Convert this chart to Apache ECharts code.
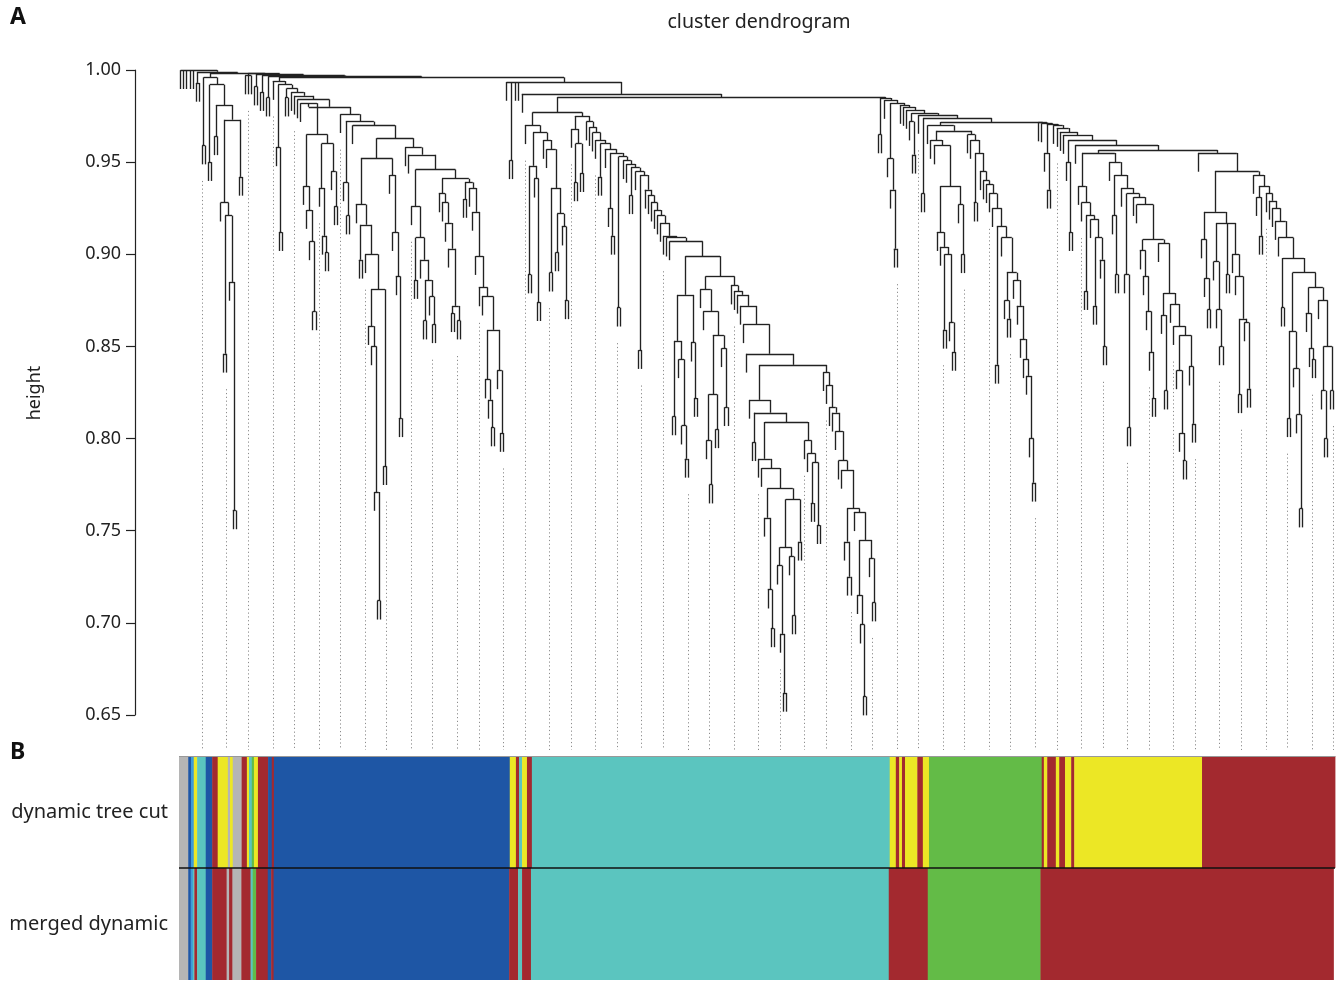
<!DOCTYPE html>
<html><head><meta charset="utf-8">
<script src="https://cdn.jsdelivr.net/npm/echarts@6/dist/echarts.min.js"></script>
<style>html,body{margin:0;padding:0;background:#fff}#c{width:1341px;height:981px}</style>
</head><body><div id="c"></div>
<script>
// ---------- DATA: dendrogram merge tree (x = leaf, pNNN = pair of leaves merged at 0.NNN, (...)NNN = node merged at height 0.NNN) ----------
const N1 = "(p959 (p950 (p964 ((x (p846 (x p761)885)921)928 p942)973)981)992)996";
const chainA = "(x (x (x p869)907)924)937";
const chainB = "(x (x p901)910)936";
const chainC = "(x p926)945";
const B1 = `(x (${chainA} (${chainB} ${chainC})960)965)982`;
const X1L = "(x (p897 (x ((x (x (x p712)771)850)861 p785)881)900)916)927";
const X1R = "(x (x (x p811)888)912)943";
const X1 = `(${X1L} ${X1R})952`;
const Y1 = "(x (p886 (x (p864 (x p862)877)886)897)909)926";
const Y2a = "(x (x (x (x (p868 p864)872)903)917)928)933";
const Y2b = "(p930 (x (x (x (x (x ((x (x p806)821)832 (x p803)837)859)877)882)899)923)936)939";
const P148 = `(x (x (${Y1} (${Y2a} ${Y2b})941)946)954)958`;
const B2 = `(x ((x p921)939 (x (${X1} ${P148})963)970)972)976`;
const BLUE = `(x ((x p912)958 (p985 (x (x (x (${B1} ${B2})980)984)986)988)990)992)994`;

const T132a = "(p889 (x p874)941)948";
const T132b = "(x (x (p890 (p901 (x p875)915)922)936)957)962";
const T125 = `(x (${T132a} ${T132b})966)970`;
const D_L1 = "(p812 (x (x p789)807)843)853";
const D_L2 = "(x p822)852";
const D_R1 = "(x (x (((x p775)799 p805)824 (x p817)849)856)869)881";
const D3a1 = "(x (x p697)718)757";
const D3a2 = "(((x (x p662)694)731 (x p704)736)741 p744)767";
const D3b = "(x (x (p765 p753)787)792)799";
const D3 = `(x (p798 ((x (x (${D3a1} ${D3a2})773)784)789 ${D3b})809)814)821`;
const D4 = "(x (x (x (x (x (x (x ((x p725)744 (x ((x (x p660)699)715 (x p711)735)745)760)762)783)788)804)814)817)829)836";
const D_R2 = `(x (x (x (x (x (x (${D3} ${D4})840)846)862)872)878)880)883`;
const DEEP = `((${D_L1} ${D_L2})878 (${D_R1} ${D_R2})888)899`;
const CHAIN5 = `(p848 (x (x (x (x (x (x (x (x (x ${DEEP})907)909)910)917)921)924)928)932)935)943`;
const STAIR3 = `(x (x (x (x (p942 (x ((x p910)925 (p871 (x (x (p932 (x ${CHAIN5})945)947)949)951)953)955)957)960)962)966)969)972`;
const T117 = `((x (p939 p944)960)968 ${STAIR3})975`;
const TURQ = `(${T125} ${T117})977`;

const G1 = "(x (x (p859 (x p847)863)900)904)912";
const G2 = "(x p900)927";
const G_a = `(x (x (${G1} ${G2})937)959)962`;
const G_b = "(x (p928 (x (x (x (x (x (p840 (x ((x p865)875 (x (x (x (x (x (x p776)800)834)843)854)872)886)890)909)915)925)933)938)940)945)955)962";
const GREEN = `(x (${G_a} (x ${G_b})965)967)970`;
const YA = "(x (x (p880 (x (p872 (x p850)897)909)919)921)928)937";
const YB1a = "(x (x (x (x p822)847)869)888)902";
const YB1b = "(x ((x p826)867 (x (x ((x (x p788)803)837 (x p808)839)856)861)873)879)906";
const YB1 = `((x p889)921 (x ((x p806)889 (x (x (${YB1a} ${YB1b})908)927)931)933)936)943`;
const YEL = `(${YA} (x ${YB1})950)955`;
const R1a = "(x (x p870)887)908";
const R1b = "((x (x p850)870)896 p889 (x (x (p824 (x p827)863)865)888)900)917";
const R2a = "(p811 (x (x p762)813)838)858";
const R2b = "((x (x p843)849)868 (x ((x p800)826 p826)850)875)882";
const R2 = `(x ((x p910)931 (x (x (x (x (x (p871 (${R2a} ${R2b})890)898)909)918)925)929)933)937)943`;
const RED = `(x ((${R1a} ${R1b})923 ${R2})945)955`;
const MB = `(x (x ((x p935)955 (x (x (x (x ((x p912)950 (x (${YEL} ${RED})9566)9593)9620)9647)9663)9685)9701)9705)9710)9715`;
const RH = `(p965 (x ((x (x p903)935)952 (x (x (x ((x p954)972 (x (p933 (${GREEN} ${MB})9718)9739)9756)9766)9783)9799)9810)9821)9837)9848`;
const TREE = `(x x x x x (p993 (${N1} ((x x x)997 ((x x)991 ((x x)988 ((x x)985 (${BLUE} (x p951 x x (x (${TURQ} ${RH})9853)9870)9935)9960)9965)9970)9975)9980)9985)9990)9999`;

// ---------- DATA: y-axis ticks ----------
const yTicks = [0.65, 0.70, 0.75, 0.80, 0.85, 0.90, 0.95, 1.00];

// ---------- DATA: module colour runs (width in leaf units, left to right) ----------
const rowNames = ['dynamic tree cut', 'merged dynamic'];
const dynamicRuns = [
 ['grey',3.0],['blue',0.9],['lightblue',0.9],['yellow',1.1],['turquoise',2.8],['blue',2.1],['red',1.8],['yellow',3.3],
 ['grey',0.7],['yellow',0.9],['grey',2.9],['red',1.7],['yellow',0.7],['turquoise',0.9],['green',0.7],['yellow',1.3],
 ['red',3.3],['blue',1.2],['red',0.7],['blue',76.8],['yellow',2.0],['red',1.0],['turquoise',1.0],['yellow',1.6],['red',1.6],
 ['turquoise',116.5],['yellow',2.0],['red',1.1],['yellow',0.9],['red',1.0],['yellow',4.0],['red',1.8],['yellow',2.0],
 ['green',36.7],['red',0.7],['yellow',1.1],['red',2.8],['yellow',1.1],['red',1.9],['yellow',2.0],['red',1.0],
 ['yellow',41.6],['red',43.3]
];
const mergedRuns = [
 ['grey',3.0],['blue',0.8],['lightblue',0.7],['turquoise',0.5],['red',0.9],['turquoise',2.8],['blue',2.1],['red',4.7],
 ['grey',0.8],['red',1.1],['grey',2.9],['red',3.0],['turquoise',0.7],['green',1.1],['red',3.8],['blue',1.1],['red',0.8],
 ['blue',76.7],['red',2.9],['turquoise',1.3],['red',2.9],['turquoise',116.5],['red',12.7],['green',36.7],['red',95.4]
];

// ---------- STYLE ----------
const COLORS = {grey:'#B5B5B5', blue:'#1E56A5', lightblue:'#3C9BD9', turquoise:'#5BC5BF', yellow:'#ECE725', red:'#A3292F', green:'#63BB47'};
const FONT = 'Noto Sans';
const HANG = 0.0102, GUIDE_GAP = 0.009, GUIDE_BOTTOM = 0.631;

// ---------- build tree geometry ----------
function parseTree(s){
  let i = 0;
  const ws = () => { while (i < s.length && /\s/.test(s[i])) i++; };
  const num = () => { const st = i; while (i < s.length && /[0-9]/.test(s[i])) i++; return parseFloat('0.' + s.slice(st, i)); };
  function node(){
    ws();
    const c = s[i];
    if (c === 'x') { i++; return {leaf:true}; }
    if (c === 'p') { i++; const h = num(); return {h, children:[{leaf:true},{leaf:true}]}; }
    if (c === '(') {
      i++; const ch = [];
      while (true) { ws(); if (s[i] === ')') { i++; return {h:num(), children:ch}; } ch.push(node()); }
    }
    throw new Error('parse error at ' + i);
  }
  return node();
}
const root = parseTree(TREE);
let nLeaves = 0;
(function place(n){
  if (n.leaf) { n.x = nLeaves++; return; }
  n.children.forEach(place);
  n.x = (n.children[0].x + n.children[n.children.length-1].x) / 2;
})(root);
const segs = [], leafEnd = [];
(function build(n){
  if (n.leaf) return;
  const f = n.children[0], l = n.children[n.children.length-1];
  segs.push([[f.x, n.h],[l.x, n.h]]);
  n.children.forEach(c => {
    const bot = c.leaf ? n.h - HANG : c.h;
    segs.push([[c.x, n.h],[c.x, bot]]);
    if (c.leaf) leafEnd[c.x] = bot;
    build(c);
  });
})(root);
const guides = [];
for (let k = 1; k <= 50; k++) {
  const idx = Math.min(nLeaves - 1, Math.floor(k * nLeaves / 50));
  guides.push([[idx, leafEnd[idx] - GUIDE_GAP],[idx, GUIDE_BOTTOM]]);
}
function runsToData(runs, row){
  const out = []; let acc = 0;
  runs.forEach(([c, w]) => { out.push({value:[acc, acc + w, row], itemStyle:{color:COLORS[c]}}); acc += w; });
  return {data: out, total: acc};
}
const dyn = runsToData(dynamicRuns, 0), mer = runsToData(mergedRuns, 1);
const barTotal = Math.max(dyn.total, mer.total);

const chart = echarts.init(document.getElementById('c'), null, {renderer:'canvas'});
chart.setOption({
  animation:false,
  backgroundColor:'#fff',
  grid:[
    {left:179, top:70, width:1156, height:645},
    {left:179, top:756, width:1156, height:224}
  ],
  xAxis:[
    {gridIndex:0, type:'value', min:-0.5, max:nLeaves-0.5, show:false},
    {gridIndex:1, type:'value', min:0, max:barTotal, show:false}
  ],
  yAxis:[
    {gridIndex:0, type:'value', min:yTicks[0], max:yTicks[yTicks.length-1], interval:0.05, offset:44,
     axisLine:{show:true, onZero:false, lineStyle:{color:'#222', width:1.2}},
     axisTick:{show:true, length:9, lineStyle:{color:'#222', width:1.2}},
     splitLine:{show:false},
     axisLabel:{formatter:v => v.toFixed(2), fontSize:18, color:'#222', margin:14, fontFamily:FONT}},
    {gridIndex:1, type:'category', data:rowNames, inverse:true,
     axisLine:{show:false, onZero:false}, axisTick:{show:false}, splitLine:{show:false},
     axisLabel:{fontSize:20, color:'#222', margin:11, fontFamily:FONT}}
  ],
  graphic:[
    {type:'text', left:10, top:6, style:{text:'A', font:'bold 23px "'+FONT+'"', fill:'#111'}},
    {type:'text', left:10, top:741, style:{text:'B', font:'bold 23px "'+FONT+'"', fill:'#111'}},
    {type:'text', x:759, y:22, style:{text:'cluster dendrogram', font:'19.6px "'+FONT+'"', fill:'#222', textAlign:'center', textVerticalAlign:'middle'}},
    {type:'text', x:35, y:393, rotation:Math.PI/2, style:{text:'height', font:'18px "'+FONT+'"', fill:'#222', textAlign:'center', textVerticalAlign:'middle'}}
  ],
  series:[
    {type:'lines', coordinateSystem:'cartesian2d', xAxisIndex:0, yAxisIndex:0, silent:true, clip:false,
     lineStyle:{color:'#8c8c8c', width:1, type:[1.2,2.6], opacity:1},
     data:guides.map(c => ({coords:c}))},
    {type:'lines', coordinateSystem:'cartesian2d', xAxisIndex:0, yAxisIndex:0, silent:true, clip:false,
     lineStyle:{color:'#222', width:1.35, opacity:1},
     data:segs.map(c => ({coords:c}))},
    {type:'custom', xAxisIndex:1, yAxisIndex:1, silent:true, encode:{x:[0,1], y:2},
     data:dyn.data.concat(mer.data),
     renderItem:(params, api) => {
       const p0 = api.coord([api.value(0), api.value(2)]);
       const p1 = api.coord([api.value(1), api.value(2)]);
       const bh = api.size([0,1])[1];
       return {type:'rect', shape:{x:p0[0], y:p0[1]-bh/2, width:Math.max(p1[0]-p0[0], 0.6)+0.4, height:bh},
               style:{fill:api.visual('color')}};
     }},
    {type:'custom', xAxisIndex:1, yAxisIndex:1, silent:true, encode:{x:[0,1], y:2},
     data:[[0, barTotal, 0]],
     renderItem:(params, api) => {
       const p0 = api.coord([api.value(0), 0]);
       const p1 = api.coord([api.value(1), 0]);
       const bh = api.size([0,1])[1];
       return {type:'group', children:[
         {type:'line', shape:{x1:p0[0], y1:p0[1]+bh/2, x2:p1[0], y2:p0[1]+bh/2}, style:{stroke:'#111', lineWidth:1.5}},
         {type:'line', shape:{x1:p0[0], y1:p0[1]-bh/2+0.5, x2:p1[0], y2:p0[1]-bh/2+0.5}, style:{stroke:'#999', lineWidth:1}}
       ]};
     }}
  ]
});
</script></body></html>
